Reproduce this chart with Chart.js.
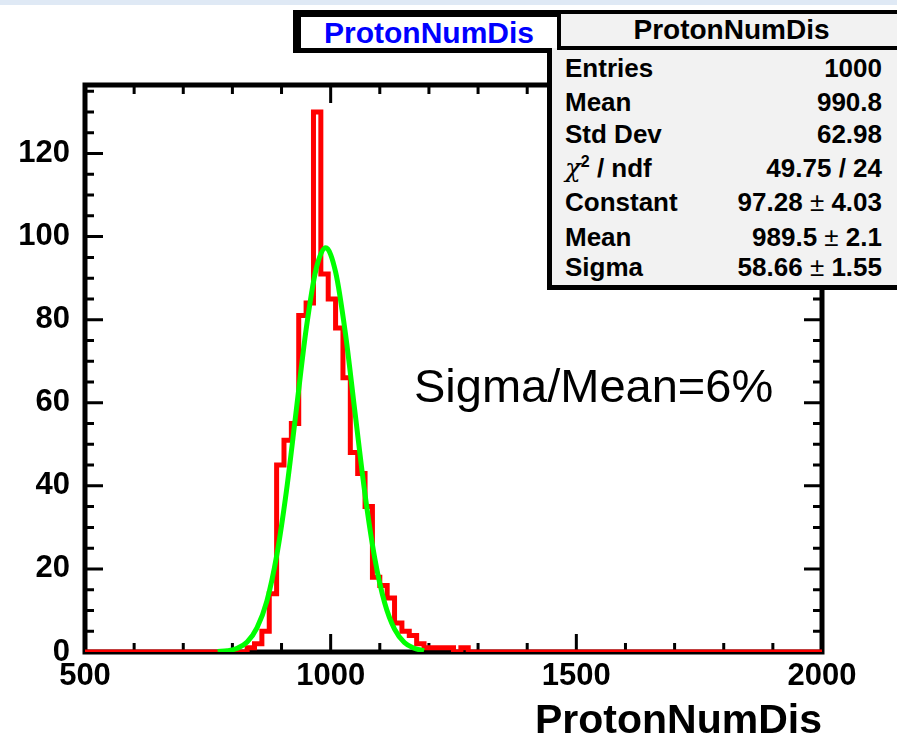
<!DOCTYPE html>
<html>
<head>
<meta charset="utf-8">
<script src="https://cdn.jsdelivr.net/npm/chart.js@4.4.1/dist/chart.umd.min.js"></script>
<style>
  html, body { margin: 0; padding: 0; background: #fff; }
  #wrap { position: relative; width: 897px; height: 742px; overflow: hidden; }
  #topband { position: absolute; left: 0; top: 0; width: 897px; height: 5px; background: #dfe9f5; }
  #chart { position: absolute; left: 0; top: 0; }
  .box { position: absolute; box-sizing: border-box; font-family: "Liberation Sans", Arial, sans-serif; font-weight: bold; color: #000; }
  #titleBox { left: 293px; top: 10px; width: 269px; height: 43px; border: 5px solid #000; border-left-width: 8px; border-top-width: 7px;
              background: #fff; color: #0000ff; font-size: 30px; text-align: center; line-height: 31px; }
  #statHead { left: 557px; top: 10px; width: 345px; height: 40px; border: 4px solid #000; border-right: none;
              background: #f2f2f2; font-size: 28px; text-align: center; line-height: 32px; }
  #statBody { left: 547px; top: 48px; width: 355px; height: 242px; border: 5px solid #000; border-top: none; border-right: none;
              background: #f2f2f2; font-size: 26px; }
  .row { position: absolute; left: 13px; right: 20px; height: 28px; line-height: 28px; white-space: nowrap; }
  .row .k { position: absolute; left: 0; }
  .row .v { position: absolute; right: 0; }
  .pm { font-weight: normal; }
  .chi { font-family: "DejaVu Serif", serif; font-style: italic; font-weight: normal; }
  .row sup { font-size: 16px; line-height: 0; vertical-align: 10px; }
  #note { position: absolute; left: 414px; top: 362px; font-family: "Liberation Sans", Arial, sans-serif;
          font-size: 47px; line-height: 47px; color: #000; white-space: nowrap; }
</style>
</head>
<body>
<div id="wrap">
  <canvas id="chart" width="897" height="742"></canvas>
  <div id="topband"></div>
  <div class="box" id="titleBox">ProtonNumDis</div>
  <div class="box" id="statBody">
    <div class="row" style="top:6px"><span class="k">Entries</span><span class="v">1000</span></div>
    <div class="row" style="top:40px"><span class="k">Mean</span><span class="v">990.8</span></div>
    <div class="row" style="top:72px"><span class="k">Std Dev</span><span class="v">62.98</span></div>
    <div class="row" style="top:106px"><span class="k"><span class="chi">χ</span><sup>2</sup> / ndf</span><span class="v">49.75 / 24</span></div>
    <div class="row" style="top:140px"><span class="k">Constant</span><span class="v">97.28 <span class="pm">±</span> 4.03</span></div>
    <div class="row" style="top:175px"><span class="k">Mean</span><span class="v">989.5 <span class="pm">±</span> 2.1</span></div>
    <div class="row" style="top:205px"><span class="k">Sigma</span><span class="v">58.66 <span class="pm">±</span> 1.55</span></div>
  </div>
  <div class="box" id="statHead">ProtonNumDis</div>
  <div id="note">Sigma/Mean=6%</div>
</div>
<script>
// histogram definition: 100 bins from 500 to 2000
const histRange = [500, 2000];
const nBins = 100;
// bin contents (bin 0 = 500-515)
const counts = [
  0, 0, 0, 0, 0, 0, 0, 0, 0, 0,
  0, 0, 0, 0, 0, 0, 0, 0, 0, 0,
  0, 0, 1, 2, 5, 14, 45, 51, 55, 81,
  84, 130, 91, 85, 78, 66, 48, 43, 35, 18,
  16, 13, 7, 5, 4, 2, 1, 1, 1, 1,
  0, 1, 0, 0, 0, 0, 0, 0, 0, 0,
  0, 0, 0, 0, 0, 0, 0, 0, 0, 0,
  0, 0, 0, 0, 0, 0, 0, 0, 0, 0,
  0, 0, 0, 0, 0, 0, 0, 0, 0, 0,
  0, 0, 0, 0, 0, 0, 0, 0, 0, 0
];
// gaussian fit curve as drawn (green)
const fitX = [770, 790, 810, 830, 850, 870, 890, 910, 930, 950, 970, 990,
              1010, 1030, 1050, 1070, 1090, 1110, 1130, 1150, 1170, 1190];
const fitY = [0.1, 0.3, 0.9, 2.4, 5.8, 12.2, 23.1, 38.8, 58.2, 77.6, 92.0, 97.3,
              91.5, 76.7, 57.2, 37.9, 22.4, 11.8, 5.5, 2.3, 0.9, 0.3];
const yMax = 136.5;
const xMajorStep = 500, xMinorStep = 100;
const yMajorStep = 20, yMinorStep = 5;

const binW = (histRange[1] - histRange[0]) / nBins;
const histPoints = counts.map((c, i) => ({ x: histRange[0] + i * binW, y: c }));
histPoints.push({ x: histRange[1], y: counts[nBins - 1] });
const fitPoints = fitX.map((x, i) => ({ x, y: fitY[i] }));

const FONT = '"Liberation Sans", Arial, sans-serif';

// ROOT style frame: thick box, ticks pointing inwards on all four sides
const rootFrame = {
  id: 'rootFrame',
  beforeDatasetsDraw(chart) {
    const { ctx, chartArea: a, scales: { x, y } } = chart;
    ctx.save();
    ctx.strokeStyle = '#000';
    ctx.lineWidth = 3;
    ctx.beginPath();
    x.ticks.forEach(t => {
      if (t.value % xMinorStep !== 0) return;
      const px = x.getPixelForValue(t.value);
      const len = t.value % xMajorStep === 0 ? 18 : 9;
      ctx.moveTo(px, a.bottom); ctx.lineTo(px, a.bottom - len);
      ctx.moveTo(px, a.top); ctx.lineTo(px, a.top + len);
    });
    y.ticks.forEach(t => {
      if (t.value % yMinorStep !== 0) return;
      const py = y.getPixelForValue(t.value);
      const len = t.value % yMajorStep === 0 ? 18 : 9;
      ctx.moveTo(a.left, py); ctx.lineTo(a.left + len, py);
      ctx.moveTo(a.right, py); ctx.lineTo(a.right - len, py);
    });
    ctx.stroke();
    ctx.lineWidth = 5;
    ctx.strokeRect(a.left, a.top, a.width, a.height);
    ctx.restore();
  }
};

new Chart(document.getElementById('chart'), {
  type: 'line',
  data: {
    datasets: [{
      label: 'fit',
      data: fitPoints,
      borderColor: '#00ff00',
      borderWidth: 5,
      pointRadius: 0,
      cubicInterpolationMode: 'monotone',
      order: 0
    }, {
      label: 'ProtonNumDis',
      data: histPoints,
      borderColor: '#ff0000',
      borderWidth: 5,
      pointRadius: 0,
      stepped: 'before',
      order: 1
    }]
  },
  options: {
    responsive: false,
    animation: false,
    events: [],
    layout: { padding: { top: 85, right: 75, left: 0, bottom: 0 } },
    plugins: { legend: { display: false }, tooltip: { enabled: false } },
    scales: {
      x: {
        type: 'linear',
        min: histRange[0],
        max: histRange[1],
        afterFit(s) { s.height = 90; },
        grid: { display: false, drawTicks: false },
        border: { display: false },
        ticks: {
          stepSize: xMinorStep,
          padding: 6,
          color: '#000',
          font: { family: FONT, size: 31, weight: 'bold' },
          maxRotation: 0,
          autoSkip: false,
          callback: v => (v % xMajorStep === 0 ? String(v) : '')
        },
        title: {
          display: true,
          text: 'ProtonNumDis',
          align: 'end',
          color: '#000',
          font: { family: FONT, size: 41, weight: 'bold', lineHeight: 1 },
          padding: { top: 0, bottom: 0 }
        }
      },
      y: {
        min: 0,
        max: yMax,
        afterFit(s) { s.width = 85; },
        grid: { display: false, drawTicks: false },
        border: { display: false },
        ticks: {
          stepSize: yMinorStep,
          includeBounds: false,
          padding: 15,
          color: '#000',
          font: { family: FONT, size: 31, weight: 'bold' },
          autoSkip: false,
          callback: v => (v % yMajorStep === 0 ? String(v) : '')
        }
      }
    }
  },
  plugins: [rootFrame]
});
</script>
</body>
</html>
